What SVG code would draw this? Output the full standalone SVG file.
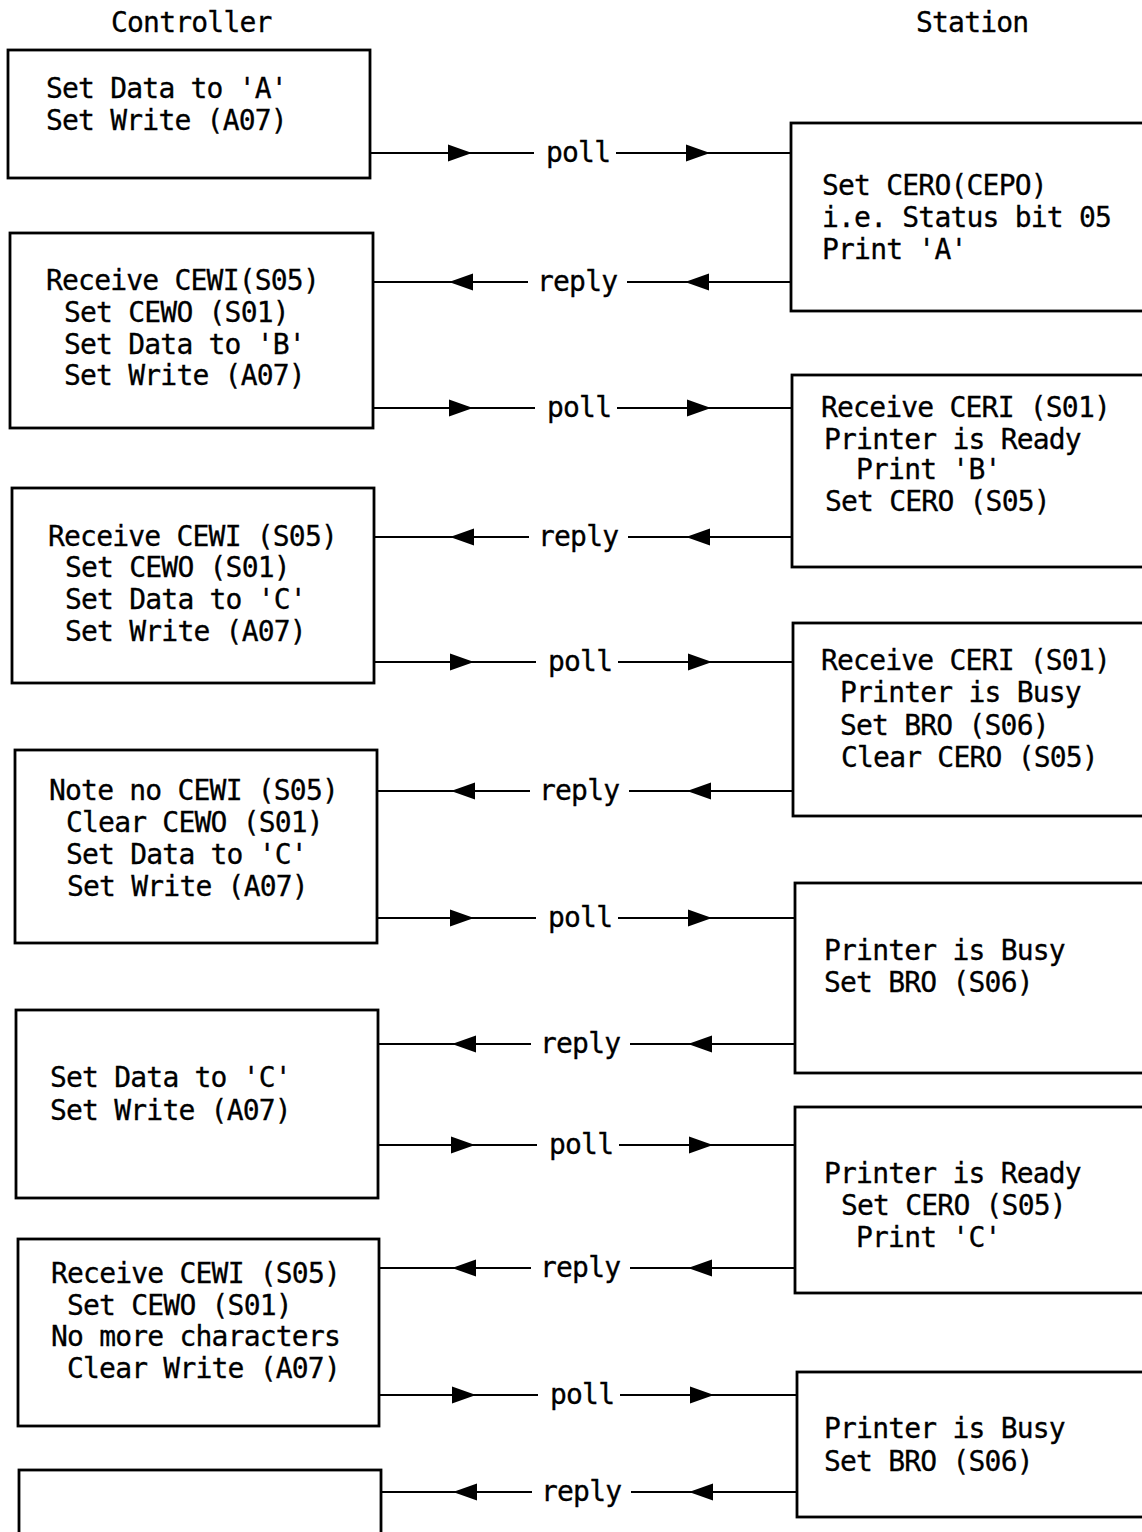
<svg xmlns="http://www.w3.org/2000/svg" xmlns:xlink="http://www.w3.org/1999/xlink" width="1142" height="1532" viewBox="0 0 1142 1532">
<style>
text{font-family:"DejaVu Sans Mono","Liberation Mono",monospace;font-size:28px;letter-spacing:-0.8px;fill:#000;stroke:#000;stroke-width:0.3}
.box{fill:none;stroke:#000;stroke-width:2.8}
.wire{fill:none;stroke:#000;stroke-width:2.2}
.ah{fill:#000}
</style>
<defs>
<path id="aR" class="ah" d="M0,0 L-24,-8.5 L-24,8.5 Z"/>
<path id="aL" class="ah" d="M0,0 L24,-8.5 L24,8.5 Z"/>
</defs>
<rect width="1142" height="1532" fill="#fff"/>
<g id="headers">
<text x="111" y="32">Controller</text>
<text x="916" y="32">Station</text>
</g>
<g id="c1"><rect class="box" x="8" y="50" width="362" height="128"/>
<text x="46" y="98">Set Data to 'A'</text>
<text x="46" y="130">Set Write (A07)</text></g>
<g id="c2"><rect class="box" x="10" y="233" width="363" height="195"/>
<text x="46" y="290">Receive CEWI(S05)</text>
<text x="64" y="322">Set CEWO (S01)</text>
<text x="64" y="354">Set Data to 'B'</text>
<text x="64" y="385">Set Write (A07)</text></g>
<g id="c3"><rect class="box" x="12" y="488" width="362" height="195"/>
<text x="48" y="546">Receive CEWI (S05)</text>
<text x="65" y="577">Set CEWO (S01)</text>
<text x="65" y="609">Set Data to 'C'</text>
<text x="65" y="641">Set Write (A07)</text></g>
<g id="c4"><rect class="box" x="15" y="750" width="362" height="193"/>
<text x="49" y="800">Note no CEWI (S05)</text>
<text x="66" y="832">Clear CEWO (S01)</text>
<text x="66" y="864">Set Data to 'C'</text>
<text x="67" y="896">Set Write (A07)</text></g>
<g id="c5"><rect class="box" x="16" y="1010" width="362" height="188"/>
<text x="50" y="1087">Set Data to 'C'</text>
<text x="50" y="1120">Set Write (A07)</text></g>
<g id="c6"><rect class="box" x="18" y="1239" width="361" height="187"/>
<text x="51" y="1283">Receive CEWI (S05)</text>
<text x="67" y="1315">Set CEWO (S01)</text>
<text x="51" y="1346">No more characters</text>
<text x="67" y="1378">Clear Write (A07)</text></g>
<g id="c7"><rect class="box" x="19" y="1470" width="362" height="100"/></g>
<g id="s1"><rect class="box" x="791" y="123" width="400" height="188"/>
<text x="822" y="195">Set CERO(CEPO)</text>
<text x="822" y="227">i.e. Status bit 05</text>
<text x="822" y="259">Print 'A'</text></g>
<g id="s2"><rect class="box" x="792" y="375" width="400" height="192"/>
<text x="821" y="417">Receive CERI (S01)</text>
<text x="824" y="449">Printer is Ready</text>
<text x="856" y="479">Print 'B'</text>
<text x="825" y="511">Set CERO (S05)</text></g>
<g id="s3"><rect class="box" x="793" y="623" width="400" height="193"/>
<text x="821" y="670">Receive CERI (S01)</text>
<text x="840" y="702">Printer is Busy</text>
<text x="840" y="735">Set BRO (S06)</text>
<text x="841" y="767">Clear CERO (S05)</text></g>
<g id="s4"><rect class="box" x="795" y="883" width="400" height="190"/>
<text x="824" y="960">Printer is Busy</text>
<text x="824" y="992">Set BRO (S06)</text></g>
<g id="s5"><rect class="box" x="795" y="1107" width="400" height="186"/>
<text x="824" y="1183">Printer is Ready</text>
<text x="841" y="1215">Set CERO (S05)</text>
<text x="856" y="1247">Print 'C'</text></g>
<g id="s6"><rect class="box" x="797" y="1372" width="400" height="145"/>
<text x="824" y="1438">Printer is Busy</text>
<text x="824" y="1471">Set BRO (S06)</text></g>
<g id="connectors">
<path class="wire" d="M370,153 H534 M616,153 H792"/>
<use xlink:href="#aR" x="472" y="153"/><use xlink:href="#aR" x="710" y="153"/>
<text x="546" y="162">poll</text>
<path class="wire" d="M373,282 H528 M627,282 H792"/>
<use xlink:href="#aL" x="449" y="282"/><use xlink:href="#aL" x="685" y="282"/>
<text x="537" y="291">reply</text>
<path class="wire" d="M373,408 H535 M617,408 H792"/>
<use xlink:href="#aR" x="473" y="408"/><use xlink:href="#aR" x="711" y="408"/>
<text x="547" y="417">poll</text>
<path class="wire" d="M374,537 H529 M628,537 H793"/>
<use xlink:href="#aL" x="450" y="537"/><use xlink:href="#aL" x="686" y="537"/>
<text x="538" y="546">reply</text>
<path class="wire" d="M374,662 H536 M618,662 H794"/>
<use xlink:href="#aR" x="474" y="662"/><use xlink:href="#aR" x="712" y="662"/>
<text x="548" y="671">poll</text>
<path class="wire" d="M377,791 H530 M629,791 H794"/>
<use xlink:href="#aL" x="451" y="791"/><use xlink:href="#aL" x="687" y="791"/>
<text x="539" y="800">reply</text>
<path class="wire" d="M377,918 H536 M618,918 H795"/>
<use xlink:href="#aR" x="474" y="918"/><use xlink:href="#aR" x="712" y="918"/>
<text x="548" y="927">poll</text>
<path class="wire" d="M378,1044 H531 M630,1044 H795"/>
<use xlink:href="#aL" x="452" y="1044"/><use xlink:href="#aL" x="688" y="1044"/>
<text x="540" y="1053">reply</text>
<path class="wire" d="M378,1145 H537 M619,1145 H795"/>
<use xlink:href="#aR" x="475" y="1145"/><use xlink:href="#aR" x="713" y="1145"/>
<text x="549" y="1154">poll</text>
<path class="wire" d="M379,1268 H531 M630,1268 H795"/>
<use xlink:href="#aL" x="452" y="1268"/><use xlink:href="#aL" x="688" y="1268"/>
<text x="540" y="1277">reply</text>
<path class="wire" d="M379,1395 H538 M620,1395 H797"/>
<use xlink:href="#aR" x="476" y="1395"/><use xlink:href="#aR" x="714" y="1395"/>
<text x="550" y="1404">poll</text>
<path class="wire" d="M381,1492 H532 M631,1492 H797"/>
<use xlink:href="#aL" x="453" y="1492"/><use xlink:href="#aL" x="689" y="1492"/>
<text x="541" y="1501">reply</text>
</g>
</svg>
